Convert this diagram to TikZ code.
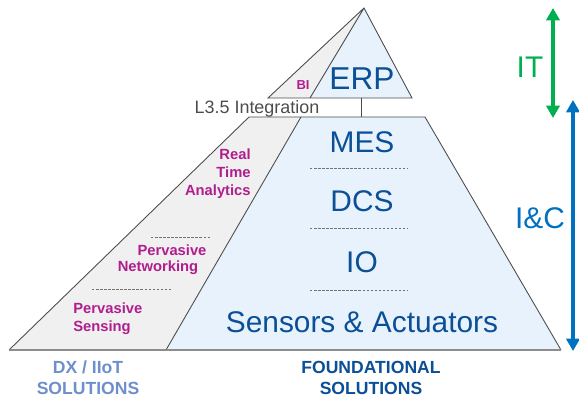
\documentclass[tikz,border=0pt]{standalone}
\usepackage{fontspec}
\setmainfont{Liberation Sans}
\usetikzlibrary{arrows.meta}

\definecolor{icblue}{HTML}{0B4F96}
\definecolor{icfill}{HTML}{E8F2FD}
\definecolor{dxfill}{HTML}{F0F0F0}
\definecolor{dxtext}{HTML}{B01E8E}
\definecolor{dxlabel}{HTML}{6F8FCB}
\definecolor{itgreen}{HTML}{00B050}
\definecolor{icarrow}{HTML}{0070C0}

\begin{document}
\begin{tikzpicture}[x=0.02cm, y=-0.02cm,
  outline/.style={draw=black!70, line width=0.5pt},
  sep/.style={draw=black!55, line width=0.5pt, dash pattern=on 1.4pt off 0.9pt},
  layer/.style={text=icblue, font=\fontsize{17}{19}\selectfont, inner sep=0pt},
  dx/.style={text=dxtext, font=\fontsize{8.4}{10.2}\selectfont\bfseries, inner sep=0pt},
  base/.style={font=\fontsize{10}{12}\selectfont\bfseries, align=center, inner sep=0pt},
  span/.style={line width=1.8pt, {Triangle[length=7pt,width=7.5pt]}-{Triangle[length=7pt,width=7.5pt]}}]
  \useasboundingbox (0,0) rectangle (579,398);

  \coordinate (apex) at (364,8);
  \coordinate (erpL) at (268,98);
  \coordinate (erpM) at (310,98);
  \coordinate (erpR) at (412,98);
  \coordinate (erpB) at (361,98);
  \coordinate (mesL) at (249,117);
  \coordinate (mesM) at (301,117);
  \coordinate (mesR) at (425,117);
  \coordinate (mesB) at (361,117);
  \coordinate (botL) at (9,350);
  \coordinate (botM) at (166,350);
  \coordinate (botR) at (561,350);

  \fill[dxfill] (apex) -- (erpL) -- (erpM) -- cycle;
  \fill[icfill] (apex) -- (erpM) -- (erpR) -- cycle;
  \draw[outline] (erpL) -- (apex) -- (erpR) -- cycle (apex) -- (erpM);

  \fill[dxfill] (mesL) -- (botL) -- (botM) -- (mesM) -- cycle;
  \fill[icfill] (mesM) -- (botM) -- (botR) -- (mesR) -- cycle;
  \draw[outline] (mesL) -- (botL) (mesM) -- (botM) (botR) -- (mesR) -- (mesL);
  \draw[draw=black!45, line width=1pt] (botL) -- (botR);
  \draw[outline] (erpB) -- (mesB);

  \node[layer, font=\fontsize{18}{20}\selectfont] (erp) at (362,79) {ERP};
  \node[dx, font=\fontsize{7.4}{9}\selectfont\bfseries] (bi) at (303,85) {BI};
  \node[text=black!70, font=\fontsize{10.2}{12}\selectfont, inner sep=0pt] (l35) at (257,109) {L3.5 Integration};

  \node[layer] (mes) at (362,142) {MES};
  \node[layer] (dcs) at (362,201) {DCS};
  \node[layer] (io) at (362,262) {IO};
  \node[layer] (sa) at (362,322) {Sensors \& Actuators};
  \draw[sep] (310,168) -- (408,168) (310,228) -- (408,228) (310,290) -- (408,290);

  \node[dx, align=right, anchor=east] (rta) at (251,174) {Real\\Time\\Analytics};
  \node[dx] (pn1) at (172,250) {Pervasive};
  \node[dx] (pn2) at (158,268) {Networking};
  \node[dx, align=left, anchor=west] (ps) at (73,319) {Pervasive\\Sensing};
  \draw[sep] (151,237) -- (211,237) (92,289) -- (172,289);

  \node[base, text=dxlabel] (dxsol) at (88,378) {DX / IIoT\\SOLUTIONS};
  \node[base, text=icblue] (fdsol) at (371,378) {FOUNDATIONAL\\SOLUTIONS};

  \coordinate (itT) at (553,8);
  \coordinate (itB) at (553,118);
  \coordinate (icT) at (573,100);
  \coordinate (icB) at (573,351);
  \draw[span, itgreen] (itT) -- (itB);
  \draw[span, icarrow] (icT) -- (icB);
  \node[text=itgreen, font=\fontsize{17}{19}\selectfont, inner sep=0pt] (it) at (530,67) {IT};
  \node[text=icarrow, font=\fontsize{17}{19}\selectfont, inner sep=0pt] (ic) at (540,218) {I\&C};
\end{tikzpicture}
\end{document}
